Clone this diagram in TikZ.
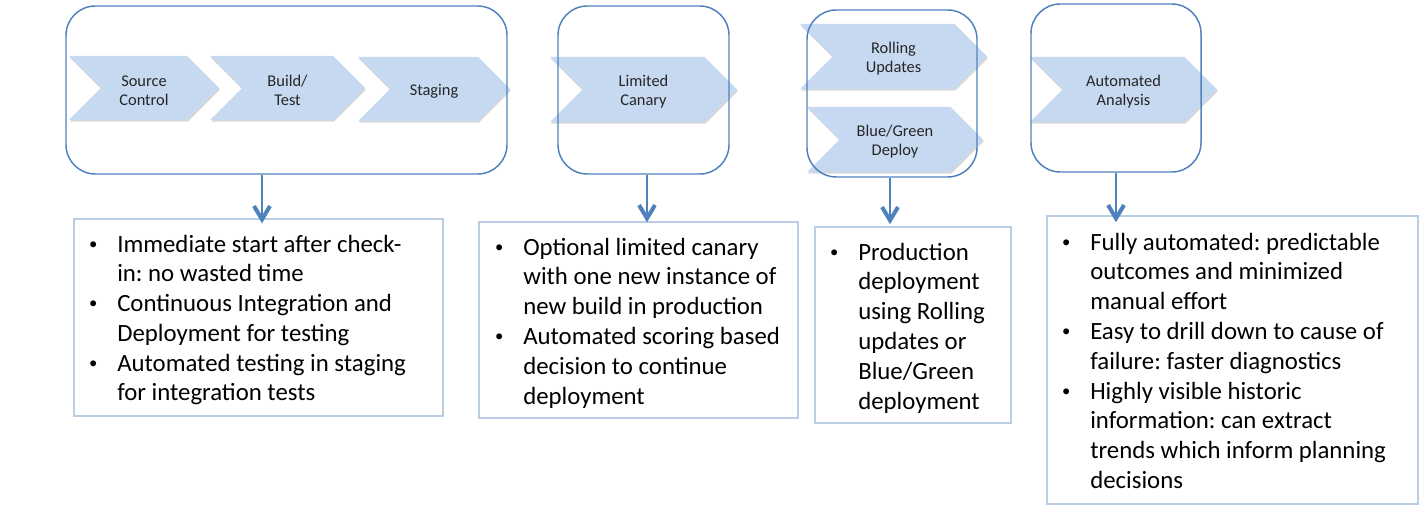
\documentclass[tikz,border=0pt]{standalone}
\usepackage{fontspec}
\setmainfont{Carlito}
\usetikzlibrary{arrows.meta,fit,shadows,calc}
\definecolor{boxblue}{RGB}{79,129,189}
\definecolor{chevblue}{RGB}{198,217,241}
\definecolor{tboxblue}{RGB}{185,205,229}
\definecolor{arrowblue}{RGB}{79,129,189}
\frenchspacing
\newcommand\bul{\llap{\makebox[36pt][c]{\raisebox{0.12em}{\fontsize{12.5}{12.5}\selectfont\textbullet}}}}
% #1 left x, #2 top y, #3 tip x, #4 bottom y, #5 name, #6 text
\newcommand\mychev[6]{%
  \path[chevfill] (#1,#2) -- ({#3-(#4-#2)/2},#2) -- (#3,{(#2+#4)/2}) -- ({#3-(#4-#2)/2},#4) -- (#1,#4) -- ({#1+(#4-#2)/2},{(#2+#4)/2}) -- cycle;
  \node[chevtext] (#5) at ({(#1+#3)/2},{(#2+#4)/2+2.5}) {#6};}
\tikzset{
  stagebox/.style={draw=boxblue, line width=1.1pt, rounded corners=22pt, inner sep=0pt},
  textbox/.style={draw=tboxblue, line width=1.1pt, inner sep=0pt},
  chevfill/.style={fill=chevblue, drop shadow={shadow xshift=0.6pt, shadow yshift=-1.3pt, opacity=0.3}},
  chevtext/.style={align=center, font=\fontsize{12.3}{14.3}\selectfont, text=black!85, inner sep=0pt},
  bullettext/.style={anchor=base west, inner sep=0pt, font=\fontsize{18.6}{22.35}\selectfont\frenchspacing},
  conn/.style={draw=arrowblue, line width=1pt, -{Straight Barb[length=10pt,width=12pt,line width=3pt]}},
}
\begin{document}
\begin{tikzpicture}[x=0.75pt,y=-0.75pt]
\useasboundingbox (0,0) rectangle (1420,506);
% chevrons
\mychev{69}{56}{219}{120}{c1}{Source\\Control}
\mychev{210}{56}{365}{120}{c2}{Build/\\Test}
\mychev{358}{57}{510}{121}{c3}{Staging}
\mychev{550}{57}{737}{122}{c4}{Limited\\Canary}
\mychev{800}{24}{987}{89}{c5}{Rolling\\Updates}
\mychev{807}{107}{983}{172}{c6}{Blue/Green\\Deploy}
\mychev{1030}{57}{1217}{122}{c7}{Automated\\Analysis}
% stage boxes
\node[stagebox, fit={(66,6) (507,174)}] (s1) {};
\node[stagebox, fit={(558,6) (729,174)}] (s2) {};
\node[stagebox, fit={(807,10) (977,177)}] (s3) {};
\node[stagebox, fit={(1031,4) (1201,172)}] (s4) {};
% text boxes
\node[textbox, fit={(74,219) (443,416)}] (b1) {};
\node[textbox, fit={(479,222) (798,418)}] (b2) {};
\node[textbox, fit={(815,227) (1011,423)}] (b3) {};
\node[textbox, fit={(1047,216) (1418,504)}] (b4) {};
% texts
\node[bullettext] (t1) at (117,252) {\begin{tabular}[t]{@{}l@{}}
\bul Immediate start after check-\\
in: no wasted time\\
\bul Continuous Integration and\\
Deployment for testing\\
\bul Automated testing in staging\\
for integration tests\end{tabular}};
\node[bullettext] (t2) at (523,255) {\begin{tabular}[t]{@{}l@{}}
\bul Optional limited canary\\
with one new instance of\\
new build in production\\
\bul Automated scoring based\\
decision to continue\\
deployment\end{tabular}};
\node[bullettext] (t3) at (858,260) {\begin{tabular}[t]{@{}l@{}}
\bul Production\\
deployment\\
using Rolling\\
updates or\\
Blue/Green\\
deployment\end{tabular}};
\node[bullettext] (t4) at (1090,250) {\begin{tabular}[t]{@{}l@{}}
\bul Fully automated: predictable\\
outcomes and minimized\\
manual effort\\
\bul Easy to drill down to cause of\\
failure: faster diagnostics\\
\bul Highly visible historic\\
information: can extract\\
trends which inform planning\\
decisions\end{tabular}};
% connectors
\coordinate (x1) at (262,0);
\coordinate (x2) at (647,0);
\coordinate (x3) at (890,0);
\coordinate (x4) at (1116,0);
\draw[conn] (s1.south -| x1) -- ($(b1.north -| x1)+(0,5)$);
\draw[conn] (s2.south -| x2) -- ($(b2.north -| x2)+(0,1)$);
\draw[conn] (s3.south -| x3) -- ($(b3.north -| x3)+(0,-2)$);
\draw[conn] (s4.south -| x4) -- ($(b4.north -| x4)+(0,7)$);
\end{tikzpicture}
\end{document}
